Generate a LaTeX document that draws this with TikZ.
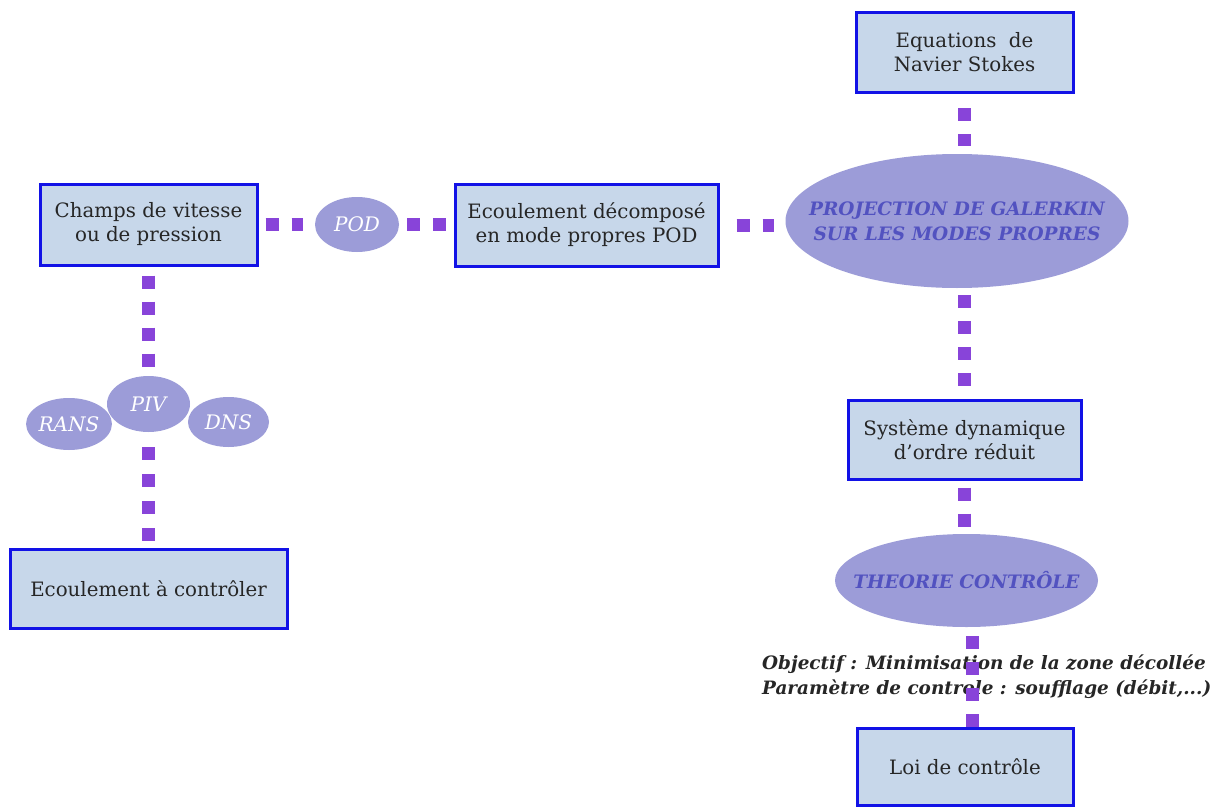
\documentclass[tikz,border=0pt]{standalone}
\usepackage{fontspec}
\setmainfont{DejaVu Serif}
\usetikzlibrary{shapes.geometric}
\definecolor{boxfill}{HTML}{C7D7EA}
\definecolor{boxline}{HTML}{1212E6}
\definecolor{ellfill}{HTML}{9C9CD8}
\definecolor{elltext}{HTML}{5252C0}
\definecolor{sqcol}{HTML}{8844D9}
\tikzset{
  boxnode/.style={draw=boxline, line width=3pt, fill=boxfill, rectangle, inner sep=0pt, align=center, font=\fontsize{19.8}{24}\selectfont, text=black!85},
  ellnode/.style={ellipse, fill=ellfill, draw=none, inner sep=0pt, align=center, font=\fontsize{20}{25}\selectfont\itshape, text=white},
  ellshape/.style={ellipse, fill=ellfill, draw=none, inner sep=0pt},
  elllabel/.style={inner sep=0pt, align=center, text=elltext, font=\fontsize{18.5}{25}\selectfont\itshape\bfseries},
  conn/.style={draw=sqcol, line width=13pt, dash pattern=on 13pt off 13pt},
}
\begin{document}
\begin{tikzpicture}[x=1pt,y=-1pt]
\useasboundingbox (0,0) rectangle (1227,808);
\fill[white] (0,0) rectangle (1227,808);
% boxes
\node[boxnode, minimum width=217pt, minimum height=80pt] (eq) at (964.5,52.5) {Equations~~de\\Navier Stokes};
\node[boxnode, minimum width=217pt, minimum height=81pt] (champs) at (148.5,224.5) {Champs de vitesse\\ou de pression};
\node[boxnode, minimum width=263pt, minimum height=82pt] (decomp) at (586.5,225) {Ecoulement décomposé\\en mode propres POD};
\node[boxnode, minimum width=233pt, minimum height=79pt] (sys) at (964.5,439.5) {Système dynamique\\d'ordre réduit};
\node[boxnode, minimum width=216pt, minimum height=77pt] (loi) at (965,766.5) {Loi de contrôle};
\node[boxnode, minimum width=277pt, minimum height=79pt] (ecac) at (148.5,588.5) {Ecoulement à contrôler};
% ellipses
\node[ellshape, minimum width=343pt, minimum height=134pt] (gal) at (957,221) {};
\node[elllabel] (galtext) at (gal.center) {PROJECTION DE GALERKIN\\SUR LES MODES PROPRES};
\node[ellnode, minimum width=84pt, minimum height=55pt] (pod) at (357,224.5) {POD};
\node[ellnode, minimum width=82pt, minimum height=52pt] (rans) at (69,424) {RANS};
\node[ellnode, minimum width=81pt, minimum height=50pt] (dns) at (228.5,422) {DNS};
\node[ellnode, minimum width=83pt, minimum height=56pt] (piv) at (148.5,404) {PIV};
\node[ellshape, minimum width=263pt, minimum height=93pt] (theo) at (966.5,580.5) {};
\node[elllabel] (theotext) at (theo.center) {THEORIE CONTRÔLE};
% objective text (under the connector)
\node[anchor=west, align=left, inner sep=0pt, font=\fontsize{18.4}{25}\selectfont\itshape\bfseries, text=black!85] (obj) at (762,677) {Objectif : Minimisation de la zone décollée\\Paramètre de controle : soufflage (débit,...)};
% connectors
\draw[conn, shorten <=7pt, shorten >=12pt] (champs.east) -- (champs.east -| pod.west);
\draw[conn, shorten <=8pt, shorten >=8pt] (pod.east) -- (pod.east -| decomp.west);
\draw[conn, shorten <=17pt, shorten >=11pt] (decomp.east) -- (decomp.east -| gal.west);
\draw[conn, shorten <=14pt, shorten >=8pt] (eq.south) -- (eq.south |- gal.north);
\draw[conn, shorten <=7pt, shorten >=13pt] (sys.north |- gal.south) -- (sys.north);
\draw[conn, shorten <=7pt, shorten >=7pt] (sys.south) -- (sys.south |- theo.north);
\coordinate (tb) at ([xshift=6pt]theo.south);
\draw[conn, shorten <=9pt] (tb) -- (tb |- loi.north);
\draw[conn, shorten <=9pt, shorten >=5pt] (champs.south) -- (champs.south |- piv.north);
\draw[conn, dash pattern=on 13pt off 14pt, shorten <=15pt, shorten >=7pt] (piv.south) -- (piv.south |- ecac.north);
\end{tikzpicture}
\end{document}
